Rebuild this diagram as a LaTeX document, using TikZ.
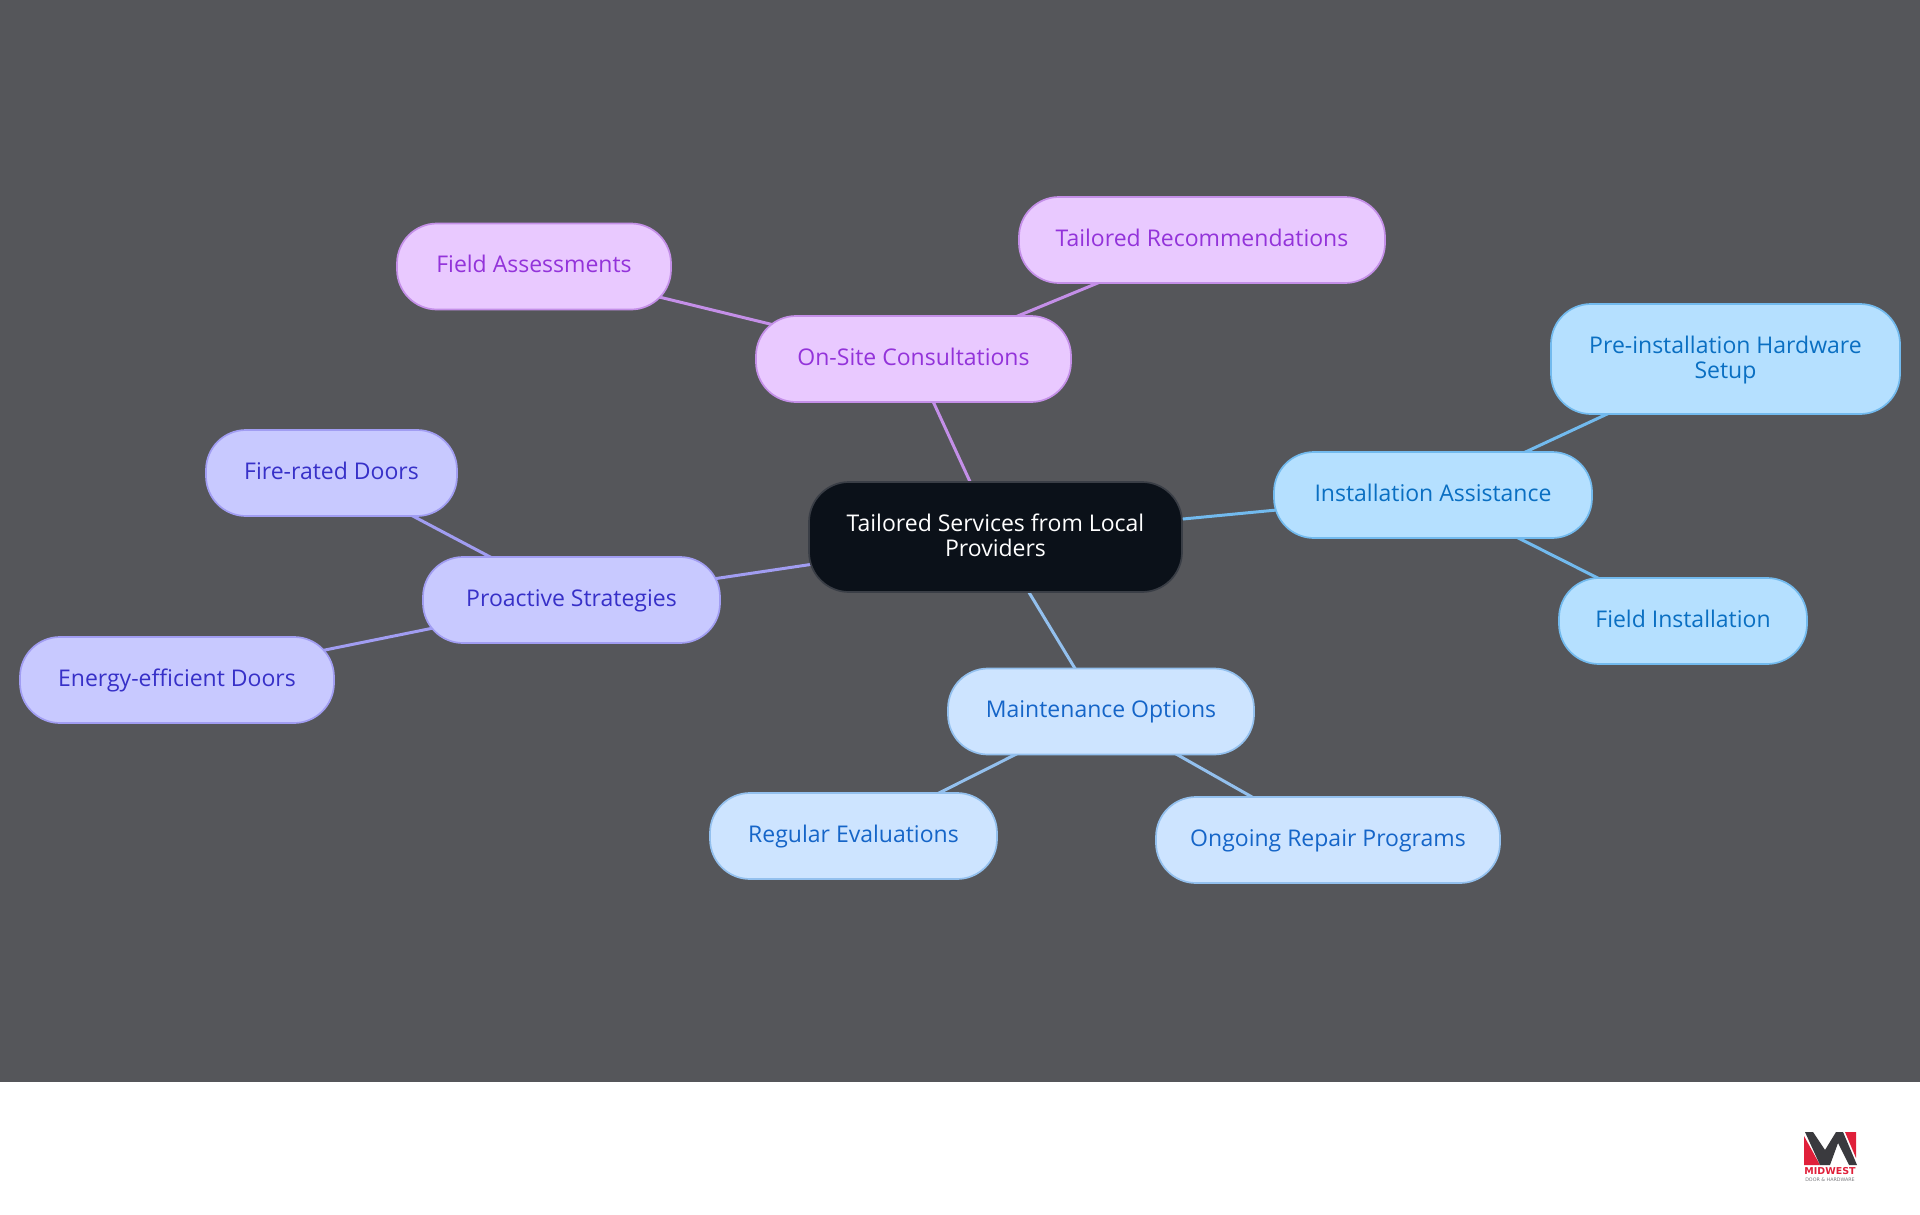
\documentclass[tikz,border=0pt]{standalone}
\usepackage{fontspec}
\setmainfont{Open Sans}
\newfontfamily\logofont{DejaVu Sans}
\usetikzlibrary{backgrounds}
\definecolor{bgdark}{HTML}{55565A}
\definecolor{rootfill}{HTML}{0B1119}
\definecolor{rootline}{HTML}{3A3E46}
\definecolor{pinkfill}{HTML}{E9C9FF}
\definecolor{pinkline}{HTML}{C48FE8}
\definecolor{pinktext}{HTML}{9333DA}
\definecolor{violetfill}{HTML}{C8C9FF}
\definecolor{violetline}{HTML}{A19DF2}
\definecolor{violettext}{HTML}{3730C8}
\definecolor{skyfill}{HTML}{B5E0FF}
\definecolor{skyline}{HTML}{72BAEE}
\definecolor{skytext}{HTML}{0A6FC2}
\definecolor{bluefill}{HTML}{CDE4FF}
\definecolor{blueline}{HTML}{93C0EE}
\definecolor{bluetext}{HTML}{1565C8}
\definecolor{logored}{HTML}{E0203A}
\definecolor{logodark}{HTML}{3A3A3E}
\definecolor{logogrey}{HTML}{77777B}
\tikzset{
  mapnode/.style={rectangle, rounded corners=40pt, minimum height=86pt, inner sep=0pt, align=center, line width=1.7pt,
    text height=18pt, text depth=6pt, font=\fontsize{23}{25}\selectfont},
  twoline/.style={text height=, text depth=, minimum height=110pt},
  rootnode/.style={mapnode, twoline, fill=rootfill, draw=rootline, text=white},
  pinknode/.style={mapnode, fill=pinkfill, draw=pinkline, text=pinktext},
  violetnode/.style={mapnode, fill=violetfill, draw=violetline, text=violettext},
  skynode/.style={mapnode, fill=skyfill, draw=skyline, text=skytext},
  bluenode/.style={mapnode, fill=bluefill, draw=blueline, text=bluetext},
  link/.style={line width=3pt}
}
\begin{document}
\begin{tikzpicture}[x=1pt,y=-1pt]
\useasboundingbox (0,0) rectangle (1920,1215);
% nodes
\node[rootnode, minimum width=373pt] (root) at (995.5,537){Tailored Services from Local\\Providers\rule[-3pt]{0pt}{0pt}};
\node[pinknode, minimum width=315pt] (onsite) at (913.5,359){On-Site Consultations};
\node[pinknode, minimum width=366pt] (recom) at (1202,240){Tailored Recommendations};
\node[pinknode, minimum width=274pt] (assess) at (534,266.5){Field Assessments};
\node[violetnode, minimum width=297pt] (proact) at (571.5,600){Proactive Strategies};
\node[violetnode, minimum width=251pt] (fire) at (331.5,473){Fire-rated Doors};
\node[violetnode, minimum width=314pt] (energy) at (177,680){Energy-efficient Doors};
\node[skynode, minimum width=318pt] (install) at (1433,495){Installation Assistance};
\node[skynode, twoline, minimum width=349pt] (presetup) at (1725.5,359){\rule{0pt}{20pt}Pre-installation Hardware\\Setup};
\node[skynode, minimum width=248pt] (fieldinst) at (1683,621){Field Installation};
\node[bluenode, minimum width=306pt] (maint) at (1101,711.5){Maintenance Options};
\node[bluenode, minimum width=287pt] (regular) at (853.5,836){Regular Evaluations};
\node[bluenode, minimum width=344pt] (repair) at (1328,840){Ongoing Repair Programs};
% panel and links go under the nodes
\begin{pgfonlayer}{background}
\fill[bgdark] (0,0) rectangle (1920,1082);
\draw[link, pinkline] (root.center) -- (onsite.center);
\draw[link, pinkline] (onsite.center) -- (recom.center);
\draw[link, pinkline] (onsite.center) -- (assess.center);
\draw[link, violetline] (root.center) -- (proact.center);
\draw[link, violetline] (proact.center) -- (fire.center);
\draw[link, violetline] (proact.center) -- (energy.center);
\draw[link, skyline] (root.center) -- (install.center);
\draw[link, skyline] (install.center) -- (presetup.center);
\draw[link, skyline] (install.center) -- (fieldinst.center);
\draw[link, blueline] (root.center) -- (maint.center);
\draw[link, blueline] (maint.center) -- (regular.center);
\draw[link, blueline] (maint.center) -- (repair.center);
\end{pgfonlayer}
% logo
\fill[logored] (1804,1136) -- (1820,1165) -- (1804,1165) -- cycle;
\fill[logodark] (1805,1132) -- (1813,1132) -- (1825,1150) -- (1836,1132) -- (1843,1132) -- (1857,1165) -- (1849,1165) -- (1838,1143) -- (1830,1165) -- (1820,1165) -- cycle;
\fill[logored] (1845,1132) -- (1856,1132) -- (1856,1158) -- cycle;
\node[inner sep=0pt, text=logored, font=\logofont\bfseries\fontsize{9.5}{10}\selectfont] (logoname) at (1830,1171){MIDWEST};
\node[inner sep=0pt, text=logogrey, font=\logofont\fontsize{4.8}{5}\selectfont] (logosub) at (1830,1180){DOOR \& HARDWARE};
\end{tikzpicture}
\end{document}
